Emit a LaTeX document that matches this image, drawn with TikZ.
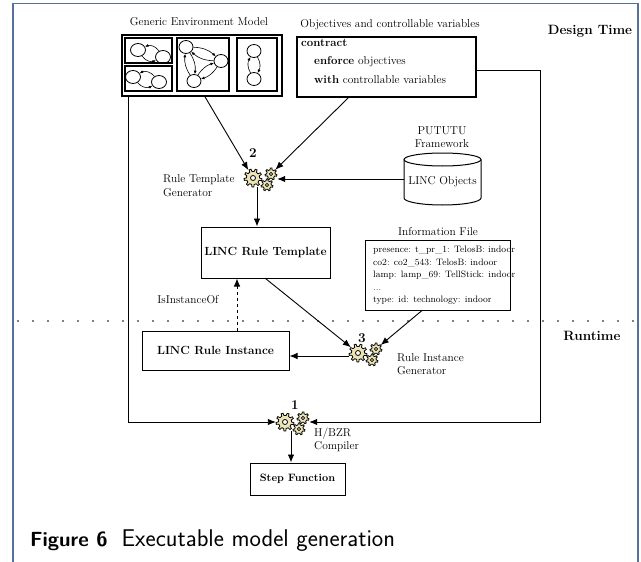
\documentclass[tikz,border=0pt]{standalone}
\usetikzlibrary{arrows.meta,shapes.geometric}
\definecolor{framec}{RGB}{84,112,155}
\definecolor{gearc}{RGB}{236,228,180}
\newcommand\mygear[5]{%
  \pgfmathsetmacro\gst{360/#5}%
  \filldraw[fill=gearc, draw=black, line width=0.8pt, even odd rule, shift={(#1,#2)}]
    (0:#4) \foreach \i in {1,...,#5}{ -- ({(\i-1)*\gst+0.12*\gst}:#3) -- ({(\i-1)*\gst+0.42*\gst}:#3) -- ({(\i-1)*\gst+0.54*\gst}:#4) -- ({\i*\gst}:#4)} -- cycle
    (0,0) circle[radius={#4*0.38}];
}
\begin{document}
\begin{tikzpicture}[x=1pt,y=-1pt,
  txt/.style={font=\fontsize{11.4}{13.5}\selectfont, inner sep=0pt},
  bx/.style={font=\fontsize{11.8}{14}\selectfont\bfseries},
  box/.style={draw, line width=1pt, inner sep=0pt},
  arr/.style={-{Latex[length=8pt,width=6.5pt]}, line width=0.9pt},
  sarr/.style={-{Latex[length=3.5pt,width=3pt]}, line width=0.6pt},
  circ/.style={draw, ellipse, minimum width=15pt, minimum height=13pt, inner sep=0pt, line width=0.8pt},
  num/.style={font=\fontsize{13.5}{16}\selectfont\bfseries, inner sep=0pt},
  phase/.style={font=\fontsize{13.5}{16}\selectfont\bfseries, inner sep=0pt},
  gears/.pic={
    \mygear{18}{-4}{6}{4.3}{7}
    \mygear{14}{7}{6}{4.3}{7}
    \mygear{0}{0}{9}{6.6}{9}
    \node[circle,inner sep=0pt,minimum size=18pt] (-big) at (0,0) {};
    \node[circle,inner sep=0pt,minimum size=12pt] (-up) at (18,-4) {};
    \node[circle,inner sep=0pt,minimum size=12pt] (-lo) at (14,7) {};
  }
]
\useasboundingbox (0,0) rectangle (641,562);
\draw[line width=1.6pt, framec] (13,562) -- (13,3.5) -- (638,3.5) -- (638,562);

% Generic environment model
\node[txt] (gemt) at (199,22) {Generic Environment Model};
\node[draw, line width=1.6pt, minimum width=160pt, minimum height=61pt, inner sep=0pt] (gem) at (202,65.5) {};
\draw[line width=1.2pt] (125,38) rectangle (172,63);
\draw[line width=1.2pt] (125,66) rectangle (172,91);
\draw[line width=1.2pt] (177,38) rectangle (229,91);
\draw[line width=1.2pt] (237,38) rectangle (277,91);
\node[circ] (a1) at (138,50) {};
\node[circ] (a2) at (163,57) {};
\draw[sarr] (a2) to[bend right=40] (a1);
\draw[sarr] (a1) to[bend right=40] (a2);
\node[circ] (b1) at (133,77) {};
\node[circ] (b2) at (159,82) {};
\draw[sarr] (b2) to[bend right=40] (b1);
\draw[sarr] (b1) to[bend right=40] (b2);
\node[circ, minimum width=14pt] (m1) at (186,47) {};
\node[circ, minimum width=14pt] (m2) at (221,61) {};
\node[circ, minimum width=14pt] (m3) at (194,81) {};
\draw[sarr] (m1) to[bend left=20] (m2);
\draw[sarr] (m2) to[bend left=20] (m1);
\draw[sarr] (m2) to[bend left=20] (m3);
\draw[sarr] (m3) to[bend left=20] (m2);
\draw[sarr] (m1) to[bend left=20] (m3);
\draw[sarr] (m3) to[bend left=20] (m1);
\node[circ, minimum width=14pt] (r1) at (254,51) {};
\node[circ, minimum width=14pt] (r2) at (254,79) {};
\draw[sarr] (r1) to[bend left=30] (r2);
\draw[sarr] (r2) to[bend left=30] (r1);

% Objectives
\node[txt] (objt) at (390,25) {Objectives and controllable variables};
\node[draw, line width=1.1pt, minimum width=179pt, minimum height=60pt, inner sep=0pt] (obj) at (386.5,67) {};
\node[txt, anchor=west] (c1) at (301,43) {\textbf{contract}};
\node[txt, anchor=west] (c2) at (314,62) {\textbf{enforce} objectives};
\node[txt, anchor=west] (c3) at (314,80) {\textbf{with} controllable variables};
\node[phase] (dt) at (590,31) {Design Time};

% Cylinder
\node[minimum width=77pt, minimum height=52pt, inner sep=0pt] (cyl) at (442.5,179) {};
\draw[line width=1pt] (442.5,159.5) ellipse[x radius=38.5, y radius=6.5];
\draw[line width=1pt] (404,159.5) -- (404,198) arc[start angle=180, end angle=0, x radius=38.5, y radius=7] -- (481,159.5);
\node[txt] (cylt) at (442.5,182) {LINC Objects};
\node[txt, align=center] (fw) at (442,137) {PUTUTU\\Framework};

% Rule template generator
\pic (g2) at (253,178) {gears};
\node[num] (n2) at (253,153) {2};
\node[txt, align=left, anchor=west] (rtg) at (163,185.5) {Rule Template\\Generator};

\node[box, minimum width=129pt, minimum height=51pt, bx] (tmpl) at (265.5,252.5) {LINC Rule Template};

% Information file
\node[txt] (inft) at (438,232) {Information File};
\node[box, minimum width=145pt, minimum height=70pt] (info) at (437.5,275) {};
\node[font=\fontsize{9.3}{12.6}\selectfont, align=left, anchor=west, inner sep=0pt] (infl) at (373,275.5) {presence: t\_pr\_1: TelosB: indoor\\co2: co2\_543: TelosB: indoor\\lamp: lamp\_69: TellStick: indoor\\...\\type: id: technology: indoor};

% separator
\draw[line width=1.8pt, line cap=round, dash pattern=on 0pt off 15pt] (18,321) -- (636,321);
\node[phase] (rt) at (592,336) {Runtime};

% Runtime part
\node[box, minimum width=147pt, minimum height=39pt, bx] (inst) at (215.5,350.5) {LINC Rule Instance};
\node[txt] (iio) at (188,300) {IsInstanceOf};
\pic (g3) at (358,353) {gears};
\node[num] (n3) at (362,338) {3};
\node[txt, align=left, anchor=west] (rig) at (397,364) {Rule Instance\\Generator};

\pic (g1) at (285,422) {gears};
\node[num] (n1) at (295,405) {1};
\node[txt, align=left, anchor=west] (hbz) at (314,440) {H/BZR\\Compiler};
\node[box, minimum width=95pt, minimum height=32pt, font=\fontsize{10.7}{13}\selectfont\bfseries] (step) at (297.5,479) {Step Function};

% Caption
\node[anchor=base west, inner sep=0pt, font=\sffamily] (cap) at (30,546) {{\fontsize{20.5}{25}\selectfont\bfseries Figure 6}\hspace{14pt}{\fontsize{24.2}{28}\selectfont Executable model generation}};

% Connectors
\draw[arr] ([xshift=3pt]gem.south) -- (g2-big);
\draw[arr] ([xshift=-38pt]obj.south) -- (g2-up);
\draw[arr] (cyl.west) -- (cyl.west -| g2-up.east);
\draw[arr] ([xshift=4pt]g2-big.south) -- ([xshift=4pt]g2-big.south |- tmpl.north);
\draw[arr] (tmpl.south) -- (g3-big);
\draw[arr] ([xshift=-15.5pt]info.south) -- (g3-up);
\draw[arr] ([yshift=-3pt]g3-big.west) -- ([yshift=-3pt]g3-big.west -| inst.east);
\draw[arr, dashed] ([xshift=21.5pt]inst.north) -- ([xshift=21.5pt]inst.north |- tmpl.south);
\coordinate (rc) at (540,422);
\draw[arr] ([yshift=-3pt]obj.east) -| (rc) -- (rc -| g1-up.east);
\draw[arr] ([xshift=7pt]gem.south west) |- (g1-big.west);
\draw[arr] ([xshift=6pt]g1-big.south) -- ([xshift=6pt]g1-big.south |- step.north);
\end{tikzpicture}
\end{document}
